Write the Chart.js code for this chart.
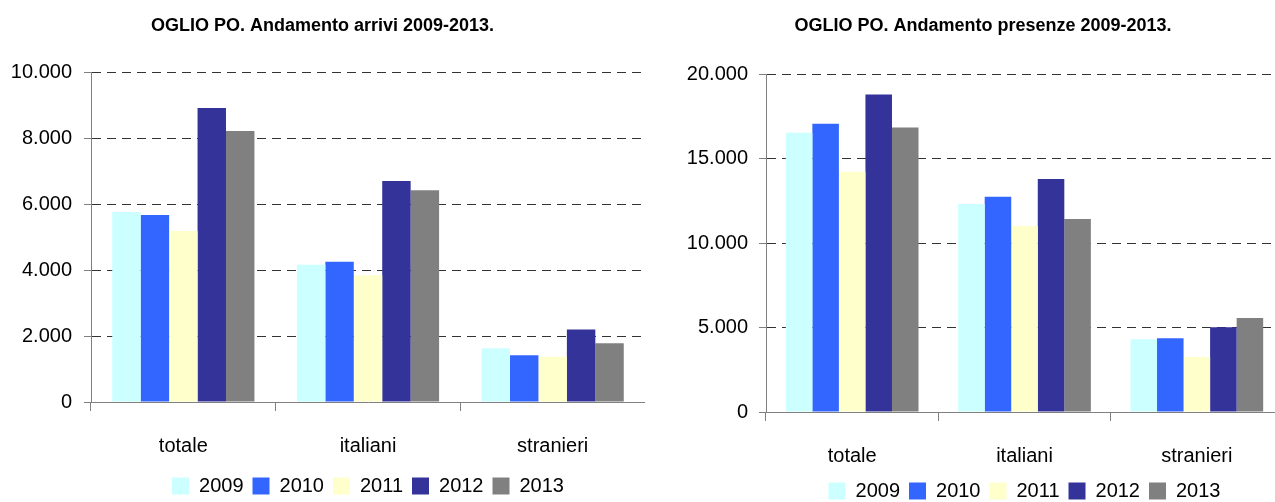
<!DOCTYPE html>
<html>
<head>
<meta charset="utf-8">
<script src="https://cdn.jsdelivr.net/npm/chart.js@4/dist/chart.umd.min.js"></script>
<style>
  body { margin: 0; width: 1275px; height: 502px; overflow: hidden; background: #fff; position: relative; }
  .box { position: absolute; top: 0; }
</style>
</head>
<body>
<div class="box" style="left:0px"><canvas id="arrivi" width="645" height="506"></canvas></div>
<div class="box" style="left:663px"><canvas id="presenze" width="640" height="511"></canvas></div>
<script>
// --- DATA ---
const categories = ['totale', 'italiani', 'stranieri'];
const years = ['2009', '2010', '2011', '2012', '2013'];
const yearColors = ['#CCFFFF', '#3366FF', '#FFFFCC', '#333399', '#808080'];

const arrivi2009 = [5760, 4160, 1630];
const arrivi2010 = [5670, 4250, 1420];
const arrivi2011 = [5180, 3840, 1370];
const arrivi2012 = [8910, 6700, 2200];
const arrivi2013 = [8210, 6420, 1780];

const presenze2009 = [16520, 12310, 4300];
const presenze2010 = [17050, 12730, 4360];
const presenze2011 = [14210, 11010, 3250];
const presenze2012 = [18780, 13790, 5020];
const presenze2013 = [16840, 11420, 5560];

const FONT = "'Liberation Sans', Arial, sans-serif";

// 10000 -> "10.000"
function fmt(v) {
    return String(v).replace(/\B(?=(\d{3})+(?!\d))/g, '.');
}

function makeChart(id, title, series, opt) {
    new Chart(document.getElementById(id), {
        type: 'bar',
        data: {
            labels: categories,
            datasets: years.map((y, i) => ({
                label: y,
                data: series[i],
                backgroundColor: yearColors[i],
                borderWidth: 0,
                categoryPercentage: 0.77,
                barPercentage: 1
            }))
        },
        options: {
            responsive: false,
            animation: false,
            layout: { padding: { left: opt.padLeft, right: opt.padRight } },
            plugins: {
                tooltip: { enabled: false },
                title: {
                    display: true,
                    text: title,
                    color: '#000',
                    font: { family: FONT, size: 18, weight: 'bold' },
                    padding: { top: 15.2, bottom: opt.titleBottom }
                },
                legend: {
                    position: 'bottom',
                    fullSize: false,
                    labels: {
                        color: '#000',
                        font: { family: FONT, size: 20 },
                        boxWidth: 17,
                        boxHeight: 17,
                        padding: 9
                    }
                }
            },
            scales: {
                x: {
                    grid: { offset: true, drawOnChartArea: false, drawTicks: true, tickLength: 9, color: '#808080' },
                    border: { color: '#808080', width: 1 },
                    ticks: { color: '#000', font: { family: FONT, size: 20 }, padding: 23 },
                    afterFit: s => { s.height = opt.xHeight; }
                },
                y: {
                    min: 0,
                    max: opt.max,
                    ticks: {
                        stepSize: opt.step,
                        color: '#000',
                        font: { family: FONT, size: 20 },
                        padding: opt.tickPad,
                        callback: v => fmt(v)
                    },
                    grid: {
                        color: c => c.tick && c.tick.value === 0 ? 'rgba(0,0,0,0)' : '#333333',
                        tickColor: '#808080',
                        tickLength: 7
                    },
                    border: { color: '#808080', width: 1, dash: [9, 6] },
                    afterFit: s => { s.width = opt.yWidth; }
                }
            }
        }
    });
}

makeChart('arrivi', 'OGLIO PO. Andamento arrivi 2009-2013.',
    [arrivi2009, arrivi2010, arrivi2011, arrivi2012, arrivi2013],
    { max: 10000, step: 2000, titleBottom: 35.2, xHeight: 65, yWidth: 91, tickPad: 12, padLeft: 0, padRight: 0 });

makeChart('presenze', 'OGLIO PO. Andamento presenze 2009-2013.',
    [presenze2009, presenze2010, presenze2011, presenze2012, presenze2013],
    { max: 20000, step: 5000, titleBottom: 37.2, xHeight: 60, yWidth: 83, tickPad: 11, padLeft: 20, padRight: 20 });
</script>
</body>
</html>
